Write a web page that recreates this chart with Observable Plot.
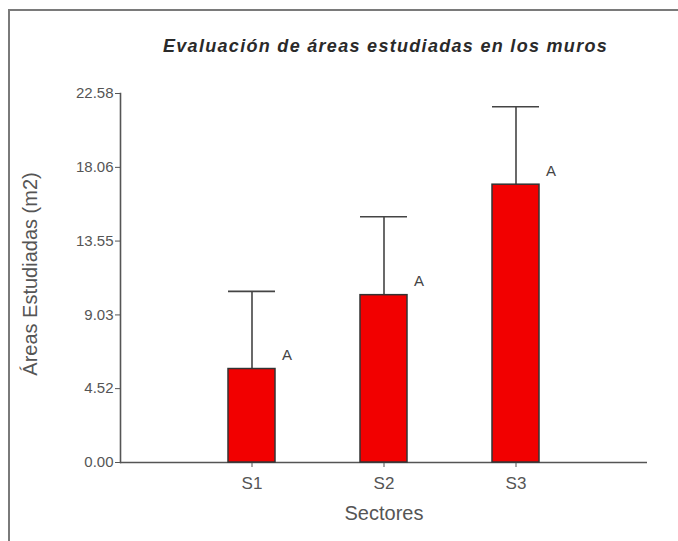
<!DOCTYPE html>
<html>
<head>
<meta charset="utf-8">
<script src="https://cdn.jsdelivr.net/npm/d3@7"></script>
<script src="https://cdn.jsdelivr.net/npm/@observablehq/plot@0.6"></script>
<style>
  html, body { margin: 0; padding: 0; background: #fff; }
  #wrap { position: relative; width: 678px; height: 541px; overflow: hidden; background: #fff; font-family: "Liberation Sans", Arial, sans-serif; }
  #frame { position: absolute; left: 8px; top: 9px; width: 700px; height: 600px; border-left: 2px solid #7a7a7a; border-top: 2px solid #7a7a7a; }
  #title { position: absolute; left: 163px; top: 36px; font-size: 18px; letter-spacing: 1.3px; font-weight: bold; font-style: italic; color: #2a2a2a; white-space: nowrap; }
  #chart { position: absolute; left: 0; top: 70px; }
</style>
</head>
<body>
<div id="wrap">
  <div id="frame"></div>
  <div id="title">Evaluación de áreas estudiadas en los muros</div>
  <div id="chart"></div>
</div>
<script>
const sectors = ["S1", "S2", "S3"];
const means = [5.72, 10.24, 17.0];
const errors = [4.75, 4.80, 4.77];
const letters = ["A", "A", "A"];
const yTicks = [0, 4.52, 9.03, 13.55, 18.06, 22.58];
const yLabel = "Áreas Estudiadas (m2)";
const xLabel = "Sectores";

const data = sectors.map((s, i) => ({sector: s, mean: means[i], upper: means[i] + errors[i], letter: letters[i]}));

const axisColor = "#555";
const plot = Plot.plot({
  width: 678,
  height: 471,
  marginLeft: 120,
  marginRight: 31,
  marginTop: 23,
  marginBottom: 79,
  style: {fontFamily: "'Liberation Sans', Arial, sans-serif", background: "transparent", color: axisColor},
  x: {domain: sectors, paddingInner: 0.644, paddingOuter: 0.818},
  y: {domain: [0, 22.58]},
  marks: [
    Plot.frame({anchor: "left", stroke: axisColor, strokeWidth: 1.6}),
    Plot.ruleY([0], {stroke: axisColor, strokeWidth: 1.6}),
    Plot.axisY({ticks: yTicks, tickFormat: d3.format(".2f"), tickSize: 5, tickPadding: 2, fontSize: 15, stroke: axisColor, fill: axisColor, label: null}),
    Plot.axisX({tickSize: 5, tickPadding: 9, fontSize: 17, stroke: axisColor, fill: axisColor, label: null}),
    Plot.ruleX(data, {x: "sector", y1: "mean", y2: "upper", stroke: "#444", strokeWidth: 1.6}),
    Plot.tickY(data, {x: "sector", y: "upper", stroke: "#444", strokeWidth: 1.6}),
    Plot.barY(data, {x: "sector", y: "mean", fill: "#f20000", stroke: "#333", strokeWidth: 1.5}),
    Plot.text(data, {x: "sector", y: "mean", text: "letter", dx: 35, dy: -14, fontSize: 15, fill: "#444"}),
    Plot.text([yLabel], {frameAnchor: "left", textAnchor: "middle", dx: -90, dy: -4, rotate: -90, fontSize: 20, fill: axisColor}),
    Plot.text([xLabel], {frameAnchor: "bottom", dy: 57, fontSize: 20, fill: axisColor})
  ]
});
document.getElementById("chart").appendChild(plot);
</script>
</body>
</html>
